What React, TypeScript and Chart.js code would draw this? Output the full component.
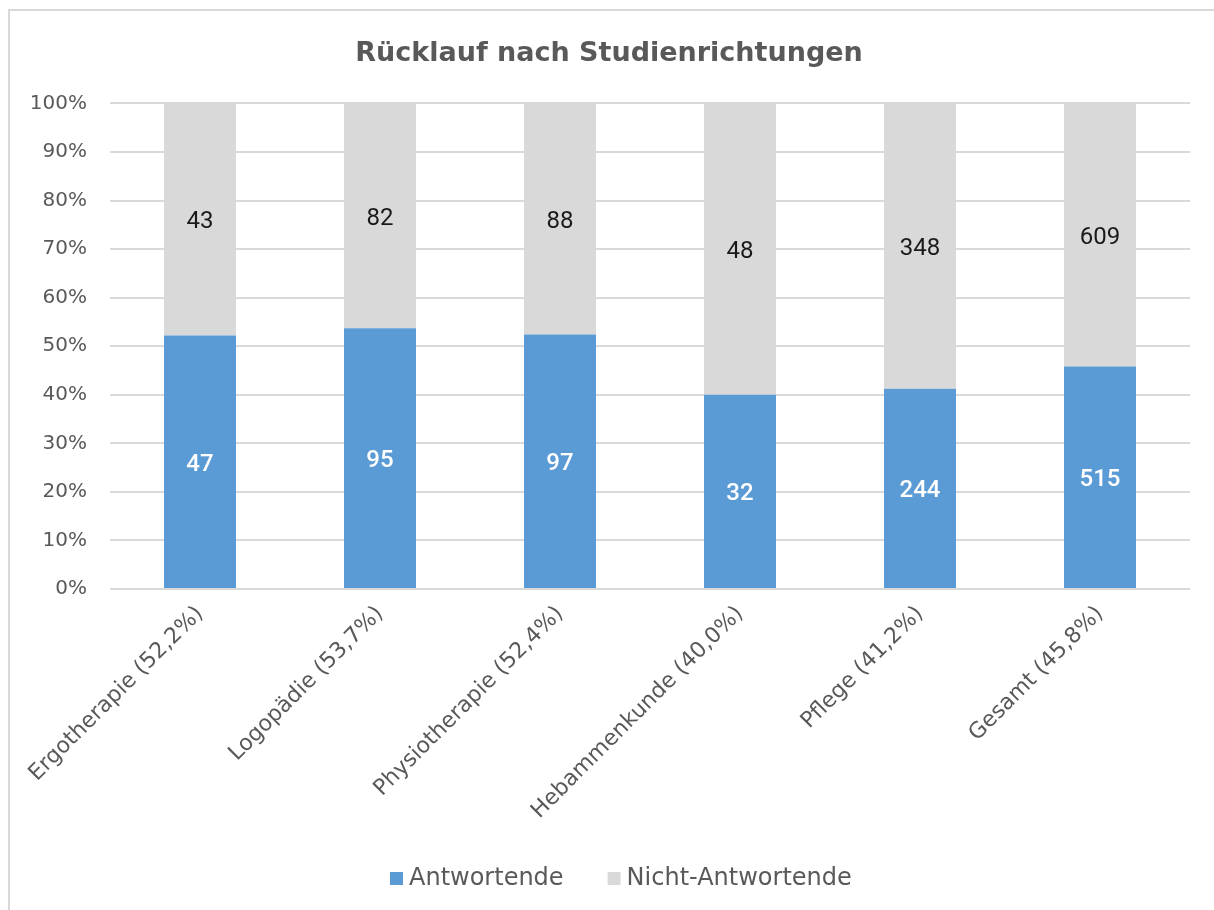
import React, { useEffect, useRef } from "react";
import { Chart, registerables } from "chart.js";

Chart.register(...registerables);

const categories = [
  "Ergotherapie (52,2%)",
  "Logopädie (53,7%)",
  "Physiotherapie (52,4%)",
  "Hebammenkunde (40,0%)",
  "Pflege (41,2%)",
  "Gesamt (45,8%)",
];
const antwortende = [47, 95, 97, 32, 244, 515];
const nichtAntwortende = [43, 82, 88, 48, 348, 609];
const yTicks = [0, 10, 20, 30, 40, 50, 60, 70, 80, 90, 100];

const totals = antwortende.map((v, i) => v + nichtAntwortende[i]);
const pct = (arr: number[]) => arr.map((v, i) => (v / totals[i]) * 100);

const framePlugin = {
  id: "frame",
  beforeDraw(chart: any) {
    const ctx = chart.ctx;
    ctx.save();
    ctx.fillStyle = "#ffffff";
    ctx.fillRect(0, 0, chart.width, chart.height);
    ctx.strokeStyle = "#d9d9d9";
    ctx.lineWidth = 2;
    ctx.beginPath();
    ctx.moveTo(9, chart.height + 5);
    ctx.lineTo(9, 10);
    ctx.lineTo(chart.width + 5, 10);
    ctx.stroke();
    ctx.restore();
  },
};

const legendPlugin = {
  id: "customLegend",
  afterDraw(chart: any) {
    const ctx = chart.ctx;
    ctx.save();
    ctx.font = "24px 'DejaVu Sans'";
    ctx.textBaseline = "middle";
    ctx.textAlign = "left";
    const y = 879;
    let x = 390;
    chart.data.datasets.forEach((ds: any) => {
      ctx.fillStyle = ds.backgroundColor;
      ctx.fillRect(x, y - 7, 13, 13);
      ctx.fillStyle = "#595959";
      ctx.fillText(ds.label, x + 19, y);
      x += 19 + ctx.measureText(ds.label).width + 44;
    });
    ctx.restore();
  },
};

const labelPlugin = {
  id: "barCounts",
  afterDatasetsDraw(chart: any) {
    const ctx = chart.ctx;
    chart.data.datasets.forEach((ds: any, di: number) => {
      const meta = chart.getDatasetMeta(di);
      meta.data.forEach((bar: any, i: number) => {
        const { x, y, base } = bar.getProps(["x", "y", "base"], true);
        const cy = (y + base) / 2 + 3;
        ctx.save();
        ctx.font = di === 0 ? "500 24px Roboto" : "400 24px Roboto";
        ctx.fillStyle = di === 0 ? "#ffffff" : "#1a1a1a";
        ctx.textAlign = "center";
        ctx.textBaseline = "middle";
        ctx.fillText(String(ds.counts[i]), x, cy);
        ctx.restore();
      });
    });
  },
};

export default function App() {
  const ref = useRef<HTMLCanvasElement>(null);
  useEffect(() => {
    if (!ref.current) return;
    const chart = new Chart(ref.current, {
      type: "bar",
      data: {
        labels: categories,
        datasets: [
          {
            label: "Antwortende",
            data: pct(antwortende),
            counts: antwortende,
            backgroundColor: "#5b9bd5",
            barPercentage: 0.4,
            categoryPercentage: 1,
          } as any,
          {
            label: "Nicht-Antwortende",
            data: pct(nichtAntwortende),
            counts: nichtAntwortende,
            backgroundColor: "#d9d9d9",
            barPercentage: 0.4,
            categoryPercentage: 1,
          } as any,
        ],
      },
      options: {
        animation: false,
        responsive: false,
        layout: { padding: { left: 28, right: 24, top: 20, bottom: 73 } },
        plugins: {
          title: {
            display: true,
            text: "Rücklauf nach Studienrichtungen",
            color: "#595959",
            font: { family: "'DejaVu Sans'", size: 27, weight: "bold" },
            padding: { top: 18, bottom: 33 },
          },
          legend: { display: false },
          tooltip: { enabled: false },
        },
        scales: {
          x: {
            stacked: true,
            grid: { display: false },
            border: { display: false },
            afterFit: (axis: any) => {
              axis.height = 248;
            },
            ticks: {
              color: "#595959",
              font: { family: "'DejaVu Sans'", size: 22 },
              minRotation: 45,
              maxRotation: 45,
              labelOffset: 0,
              padding: 4,
            },
          },
          y: {
            stacked: true,
            min: 0,
            max: 100,
            afterBuildTicks: (axis: any) => {
              axis.ticks = yTicks.map((v) => ({ value: v }));
            },
            afterFit: (axis: any) => {
              axis.width = 82;
            },
            grid: { color: "#d9d9d9", lineWidth: 2, drawTicks: false },
            border: { display: false },
            ticks: {
              color: "#595959",
              font: { family: "'DejaVu Sans'", size: 20 },
              padding: 23,
              callback: (v: any) => v + "%",
            },
          },
        },
      },
      plugins: [framePlugin, labelPlugin, legendPlugin],
    });
    return () => chart.destroy();
  }, []);
  return (
    <div style={{ position: "fixed", left: 0, top: 0, width: 1214, height: 910, overflow: "hidden", background: "#fff" }}>
      <canvas ref={ref} width={1214} height={910} style={{ position: "absolute", left: 0, top: 0 }} />
    </div>
  );
}
